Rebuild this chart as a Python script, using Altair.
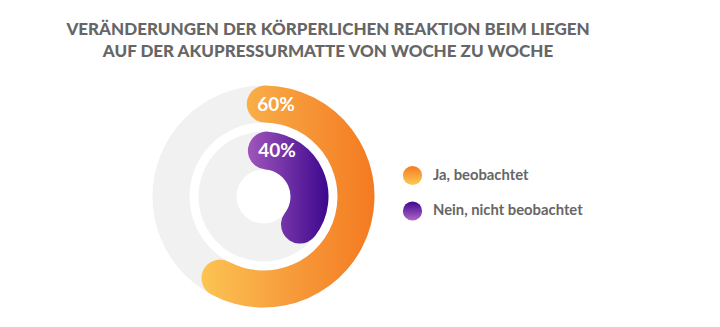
import math
import altair as alt
import pandas as pd

# ---- data ----
title_lines = [
    "VERÄNDERUNGEN DER KÖRPERLICHEN REAKTION BEIM LIEGEN",
    "AUF DER AKUPRESSURMATTE VON WOCHE ZU WOCHE",
]
categories = ["Ja, beobachtet", "Nein, nicht beobachtet"]
values = [60, 40]

df = pd.DataFrame({"cat": categories, "value": values})

# ---- layout / style ----
CX, CY = 263.5, 196.5
OUTER = (74, 111)
INNER = (27, 65)
BG = "#F1F1F1"
TXT = "#666666"
FONT = "Lato"

theta_scale = alt.Scale(domain=[0, 100], range=[0, 2 * math.pi])

grad_orange = alt.LinearGradient(
    gradient="linear", x1=0, y1=0, x2=1, y2=0,
    stops=[alt.GradientStop(color="#FCC453", offset=0),
           alt.GradientStop(color="#F7A03E", offset=0.45),
           alt.GradientStop(color="#F47A21", offset=1)])
grad_purple = alt.LinearGradient(
    gradient="linear", x1=0, y1=0, x2=1, y2=0,
    stops=[alt.GradientStop(color="#A056BB", offset=0),
           alt.GradientStop(color="#3C078E", offset=1)])
leg_orange = alt.LinearGradient(
    gradient="linear", x1=0, y1=0, x2=0, y2=1,
    stops=[alt.GradientStop(color="#F47A21", offset=0),
           alt.GradientStop(color="#FDCB54", offset=1)])
leg_purple = alt.LinearGradient(
    gradient="linear", x1=0, y1=0, x2=0, y2=1,
    stops=[alt.GradientStop(color="#3C078E", offset=0),
           alt.GradientStop(color="#B466C8", offset=1)])

base = alt.Chart(df)


def bg_ring(r_in, r_out):
    return base.transform_filter(alt.datum.cat == categories[0]).mark_arc(
        radius=r_out, radius2=r_in, theta=0, theta2=2 * math.pi, fill=BG
    ).encode(x=alt.value(CX), y=alt.value(CY))


def value_ring(cat, r_in, r_out, grad, pre, post):
    return base.transform_filter(alt.datum.cat == cat).transform_calculate(
        t0=f"0 - {pre}", t1=f"datum.value + {post}"
    ).mark_arc(
        radius=r_out, radius2=r_in, cornerRadius=(r_out - r_in) / 2, fill=grad
    ).encode(
        theta=alt.Theta("t0:Q", scale=theta_scale),
        theta2="t1:Q",
        x=alt.value(CX), y=alt.value(CY),
    )


def value_label(cat, r, ang, size):
    return base.transform_filter(alt.datum.cat == cat).transform_calculate(
        lbl="datum.value + '%'"
    ).mark_text(
        radius=r, theta=ang, font=FONT, fontWeight="bold", fontSize=size,
        color="white", align="center", baseline="middle"
    ).encode(text="lbl:N", x=alt.value(CX), y=alt.value(CY))


leg_y = alt.Y("cat:N", scale=alt.Scale(type="point", padding=0, domain=categories,
                                       range=[175.5, 211]), axis=None)


def legend_dot(cat, grad):
    return base.transform_filter(alt.datum.cat == cat).mark_circle(
        size=370, fill=grad, opacity=1
    ).encode(x=alt.value(412.5), y=leg_y)


legend_text = base.mark_text(
    align="left", baseline="middle", font=FONT, fontWeight="bold",
    fontSize=14.8, color=TXT
).encode(x=alt.value(433), y=leg_y, text="cat:N")

title = base.transform_filter(alt.datum.cat == categories[0]).mark_text(
    align="center", baseline="alphabetic", font=FONT, fontWeight=900,
    fontSize=17, lineHeight=21.5, color=TXT
).encode(x=alt.value(328), y=alt.value(35), text=alt.value(title_lines))

chart = alt.layer(
    bg_ring(*OUTER),
    bg_ring(*INNER),
    value_ring(categories[0], OUTER[0], OUTER[1], grad_orange, 2.9, 1.0),
    value_ring(categories[1], INNER[0], INNER[1], grad_purple, 5.6, 2.2),
    value_label(categories[0], 92.3, 0.136, 19),
    value_label(categories[1], 47.5, 0.288, 19),
    legend_dot(categories[0], leg_orange),
    legend_dot(categories[1], leg_purple),
    legend_text,
    title,
).properties(
    width=720, height=327, autosize="none", padding=0, background="white"
).configure_view(stroke="transparent", strokeWidth=0)

chart.save("out.html", embed_options={"renderer": "svg", "actions": False})
